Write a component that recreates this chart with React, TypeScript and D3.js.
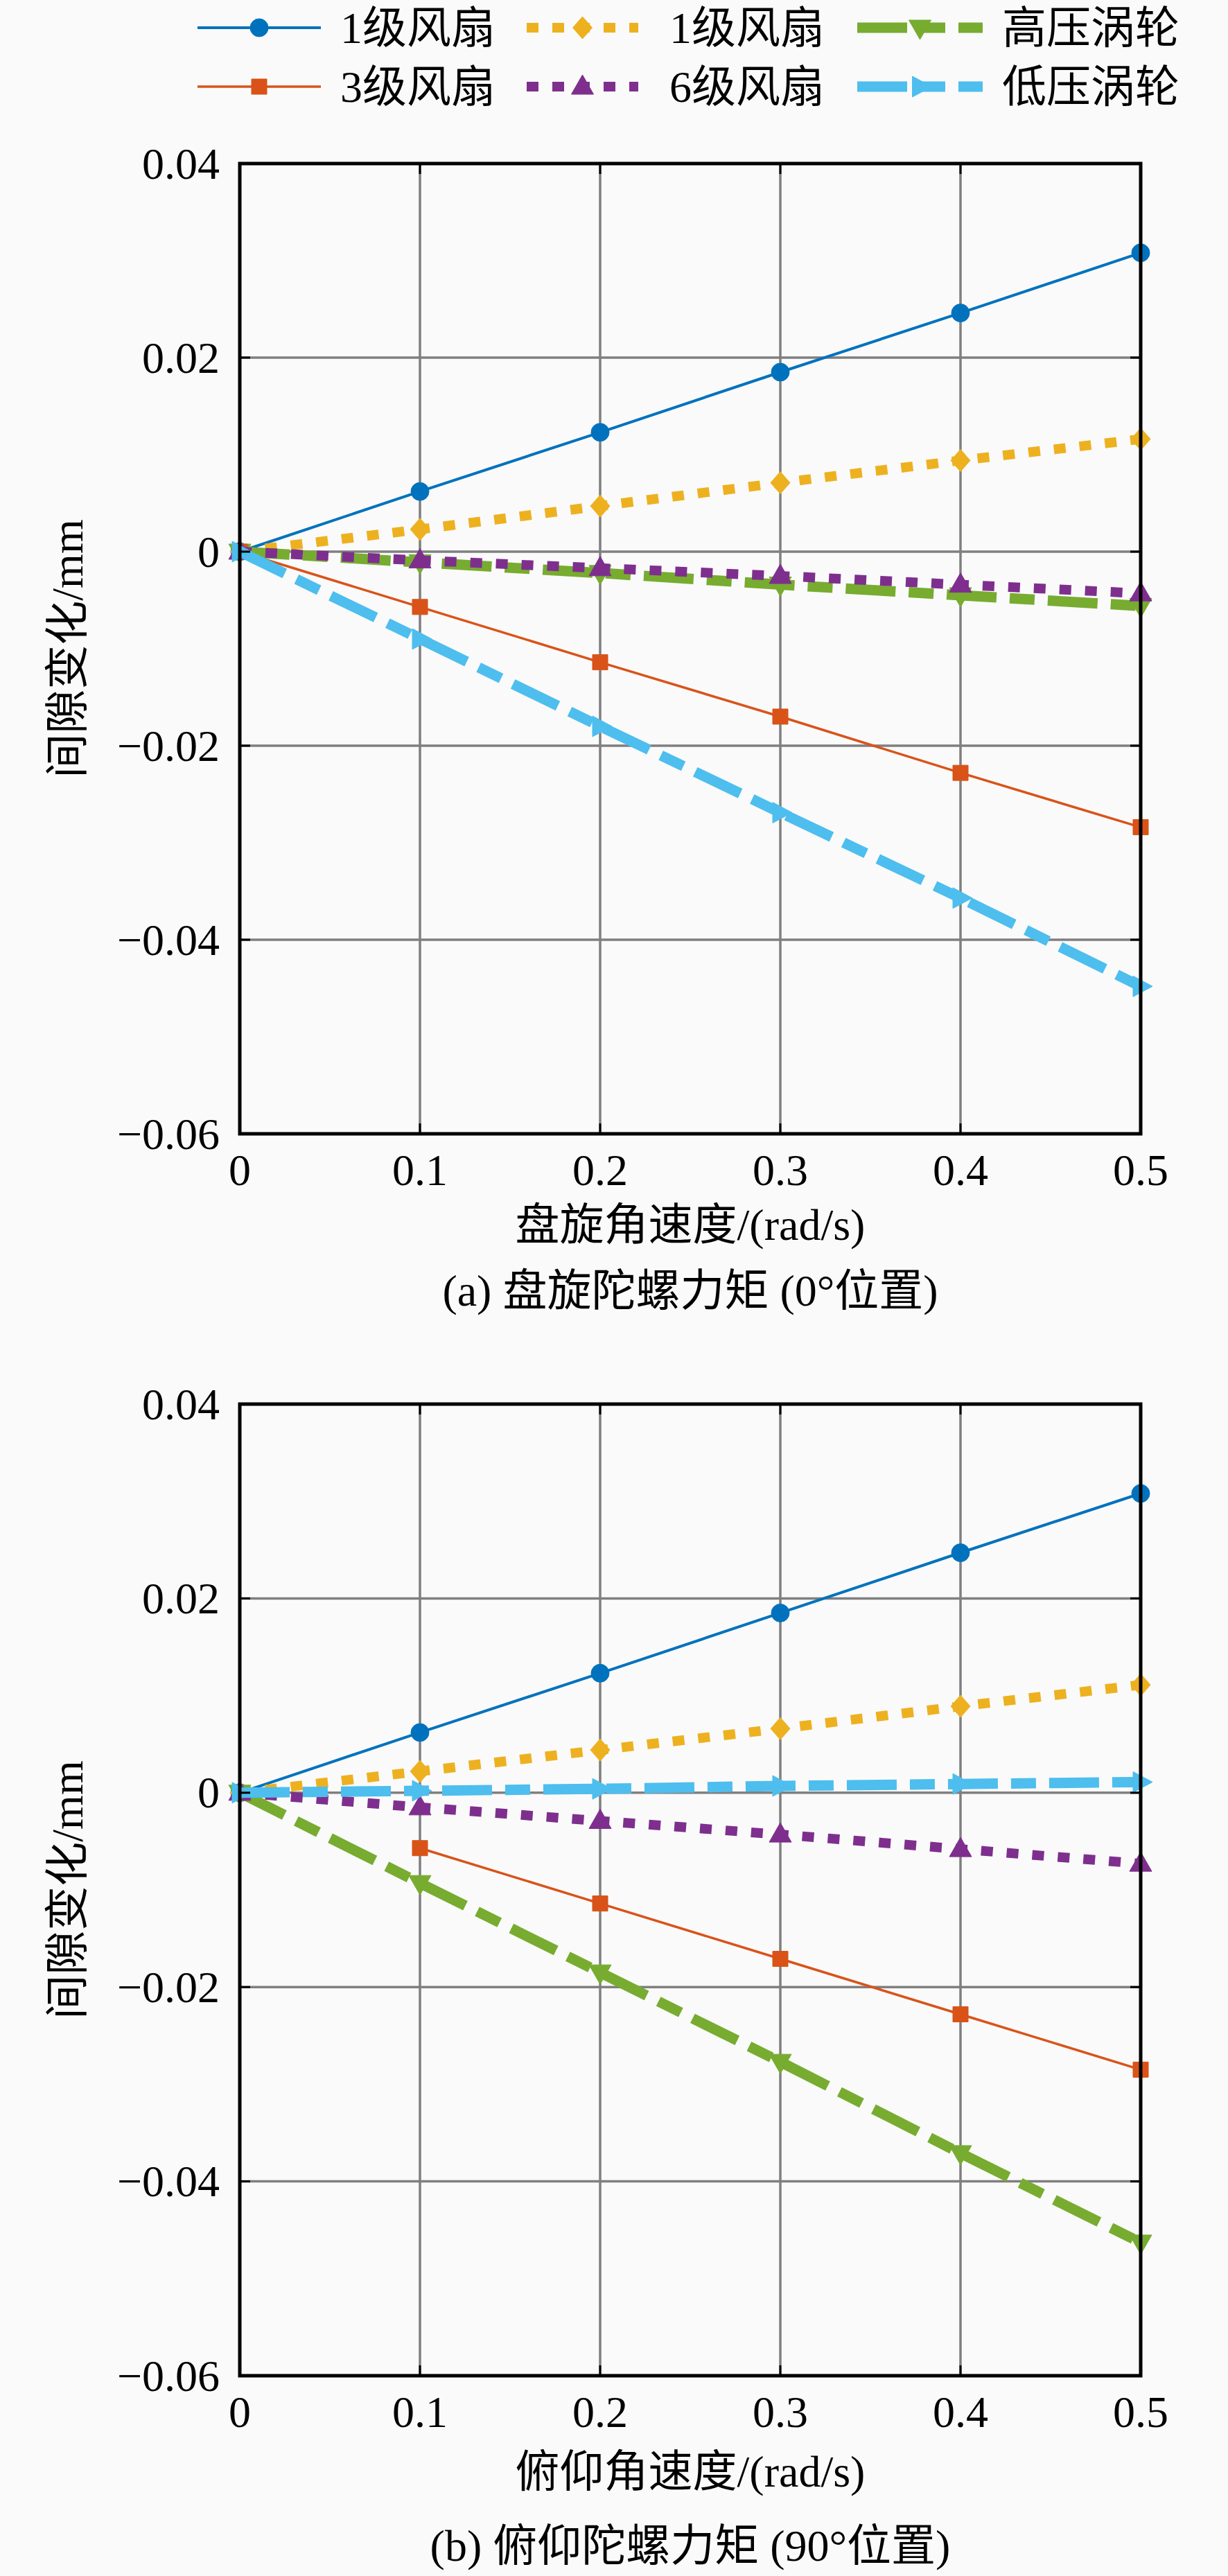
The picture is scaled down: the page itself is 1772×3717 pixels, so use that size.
import React from 'react';
import * as d3 from 'd3';

// angular velocity samples (rad/s)
const xValues = [0, 0.1, 0.2, 0.3, 0.4, 0.5];
const xTicks = [0, 0.1, 0.2, 0.3, 0.4, 0.5];
const yTicks = [0.04, 0.02, 0, -0.02, -0.04, -0.06];

// (a) yaw gyroscopic moment, 0° position
const fan1A = [0, 0.0062, 0.0123, 0.0185, 0.0246, 0.0308];
const fan1bA = [0, 0.0023, 0.0047, 0.0071, 0.0094, 0.0116];
const hptA = [0, -0.0011, -0.0022, -0.0034, -0.0045, -0.0056];
const fan3A = [0, -0.0057, -0.0114, -0.017, -0.0228, -0.0284];
const fan6A = [0, -0.0009, -0.0017, -0.0025, -0.0034, -0.0043];
const lptA = [0, -0.009, -0.018, -0.0269, -0.0357, -0.0448];

// (b) pitch gyroscopic moment, 90° position
const fan1B = [0, 0.0062, 0.0123, 0.0185, 0.0247, 0.0308];
const fan1bB = [0, 0.0022, 0.0044, 0.0066, 0.0089, 0.0111];
const hptB = [0, -0.0093, -0.0185, -0.0277, -0.0371, -0.0463];
const fan3B = [null, -0.0057, -0.0114, -0.0171, -0.0228, -0.0285];
const fan6B = [0, -0.0015, -0.0029, -0.0043, -0.0058, -0.0073];
const lptB = [0, 0.0002, 0.0004, 0.0007, 0.0009, 0.0011];

const seriesNames = ['1级风扇', '1级风扇', '高压涡轮', '3级风扇', '6级风扇', '低压涡轮'];

const styles = [
  { color: '#0072BD', width: 4, dash: null, marker: 'circle' },
  { color: '#EDB120', width: 14, dash: '17 20', marker: 'diamond' },
  { color: '#77AC30', width: 15, dash: '72 19 36 19', marker: 'down' },
  { color: '#D95319', width: 3.5, dash: null, marker: 'square' },
  { color: '#7E2F8E', width: 14, dash: '17 20', marker: 'up' },
  { color: '#4DBEEE', width: 15, dash: '72 19 36 19', marker: 'right' },
];

const FONT = "'Liberation Serif', 'Noto Sans CJK SC', serif";
const W = 1772;
const H = 3717;
const LEFT = 346;
const RIGHT = 1646;

const panels = [
  {
    top: 236, bottom: 1636,
    data: [fan1A, fan1bA, hptA, fan3A, fan6A, lptA],
    xTitle: '盘旋角速度/(rad/s)', caption: '(a) 盘旋陀螺力矩 (0°位置)',
    xTitleY: 1767, captionY: 1862,
  },
  {
    top: 2026, bottom: 3428,
    data: [fan1B, fan1bB, hptB, fan3B, fan6B, lptB],
    xTitle: '俯仰角速度/(rad/s)', caption: '(b) 俯仰陀螺力矩 (90°位置)',
    xTitleY: 3566, captionY: 3673,
  },
];

function markerPath(type: string) {
  switch (type) {
    case 'circle':
      return 'M13,0A13,13 0 1,1 -13,0A13,13 0 1,1 13,0Z';
    case 'square':
      return 'M-11,-11H11V11H-11Z';
    case 'diamond':
      return 'M0,-16L14,0L0,16L-14,0Z';
    case 'up':
      return 'M0,-17L16,11H-16Z';
    case 'down':
      return 'M0,17L16,-11H-16Z';
    case 'right':
      return 'M17,0L-11,-15V15Z';
  }
  return '';
}

function fmtY(v: number) {
  if (v === 0) return '0';
  const s = Math.abs(v).toFixed(2);
  return v < 0 ? '\u2212' + s : s;
}

function Panel({ p }: { p: any }) {
  const x = d3.scaleLinear().domain([0, 0.5]).range([LEFT, RIGHT]);
  const y = d3.scaleLinear().domain([-0.06, 0.04]).range([p.bottom, p.top]);
  const line = d3
    .line<number | null>()
    .defined((d) => d !== null)
    .x((d, i) => x(xValues[i]))
    .y((d) => y(d as number));
  const tick = 15;

  return (
    <g>
      {/* grid */}
      {xTicks.slice(1, -1).map((t) => (
        <line key={'gx' + t} x1={x(t)} x2={x(t)} y1={p.top} y2={p.bottom} stroke="#7f7f7f" strokeWidth={3.5} />
      ))}
      {yTicks.slice(1, -1).map((t) => (
        <line key={'gy' + t} x1={LEFT} x2={RIGHT} y1={y(t)} y2={y(t)} stroke="#7f7f7f" strokeWidth={3.5} />
      ))}
      {/* series */}
      {p.data.map((vals: any[], si: number) => {
        const st = styles[si];
        return (
          <g key={'s' + si}>
            <path
              d={line(vals) || ''}
              fill="none"
              stroke={st.color}
              strokeWidth={st.width}
              strokeDasharray={st.dash || undefined}
            />
            {vals.map((v, i) =>
              v === null ? null : (
                <path
                  key={i}
                  d={markerPath(st.marker)}
                  transform={`translate(${x(xValues[i])},${y(v)})`}
                  fill={st.color}
                  stroke={st.color}
                  strokeWidth={1}
                />
              )
            )}
          </g>
        );
      })}
      {/* ticks */}
      {xTicks.map((t) => (
        <g key={'tx' + t}>
          <line x1={x(t)} x2={x(t)} y1={p.bottom} y2={p.bottom - tick} stroke="#000" strokeWidth={3} />
          <line x1={x(t)} x2={x(t)} y1={p.top} y2={p.top + tick} stroke="#000" strokeWidth={3} />
          <text x={x(t)} y={p.bottom + 52} textAnchor="middle" dominantBaseline="central" fontFamily={FONT} fontSize={64}>
            {String(t)}
          </text>
        </g>
      ))}
      {yTicks.map((t) => (
        <g key={'ty' + t}>
          <line x1={LEFT} x2={LEFT + tick} y1={y(t)} y2={y(t)} stroke="#000" strokeWidth={3} />
          <line x1={RIGHT} x2={RIGHT - tick} y1={y(t)} y2={y(t)} stroke="#000" strokeWidth={3} />
          <text x={317} y={y(t)} textAnchor="end" dominantBaseline="central" fontFamily={FONT} fontSize={64}>
            {fmtY(t)}
          </text>
        </g>
      ))}
      <rect x={LEFT} y={p.top} width={RIGHT - LEFT} height={p.bottom - p.top} fill="none" stroke="#000" strokeWidth={5} />
      <text
        transform={`translate(97,${(p.top + p.bottom) / 2}) rotate(-90)`}
        textAnchor="middle"
        dominantBaseline="central"
        fontFamily={FONT}
        fontSize={64}
      >
        间隙变化/mm
      </text>
      <text x={(LEFT + RIGHT) / 2} y={p.xTitleY} textAnchor="middle" dominantBaseline="central" fontFamily={FONT} fontSize={64}>
        {p.xTitle}
      </text>
      <text x={(LEFT + RIGHT) / 2} y={p.captionY} textAnchor="middle" dominantBaseline="central" fontFamily={FONT} fontSize={64}>
        {p.caption}
      </text>
    </g>
  );
}

function Legend() {
  // row-major, 3 columns
  const cols = [
    { x0: 285, x1: 463, tx: 491 },
    { x0: 760, x1: 921, tx: 966 },
    { x0: 1237, x1: 1418, tx: 1446 },
  ];
  const rows = [40, 125];
  return (
    <g>
      {seriesNames.map((name, i) => {
        const c = cols[i % 3];
        const ry = rows[Math.floor(i / 3)];
        const st = styles[i];
        const mx = (c.x0 + c.x1) / 2;
        return (
          <g key={'lg' + i}>
            <line x1={c.x0} x2={c.x1} y1={ry} y2={ry} stroke={st.color} strokeWidth={st.width} strokeDasharray={st.dash || undefined} />
            <path d={markerPath(st.marker)} transform={`translate(${mx},${ry})`} fill={st.color} stroke={st.color} strokeWidth={1} />
            <text x={c.tx} y={ry} dominantBaseline="central" fontFamily={FONT} fontSize={64}>
              {name}
            </text>
          </g>
        );
      })}
    </g>
  );
}

export default function App() {
  return (
    <svg
      width={W}
      height={H}
      viewBox={`0 0 ${W} ${H}`}
      style={{ position: 'absolute', left: 0, top: 0, background: '#fafafa' }}
    >
      <rect x={0} y={0} width={W} height={H} fill="#fafafa" />
      <Legend />
      {panels.map((p, i) => (
        <Panel key={i} p={p} />
      ))}
    </svg>
  );
}
